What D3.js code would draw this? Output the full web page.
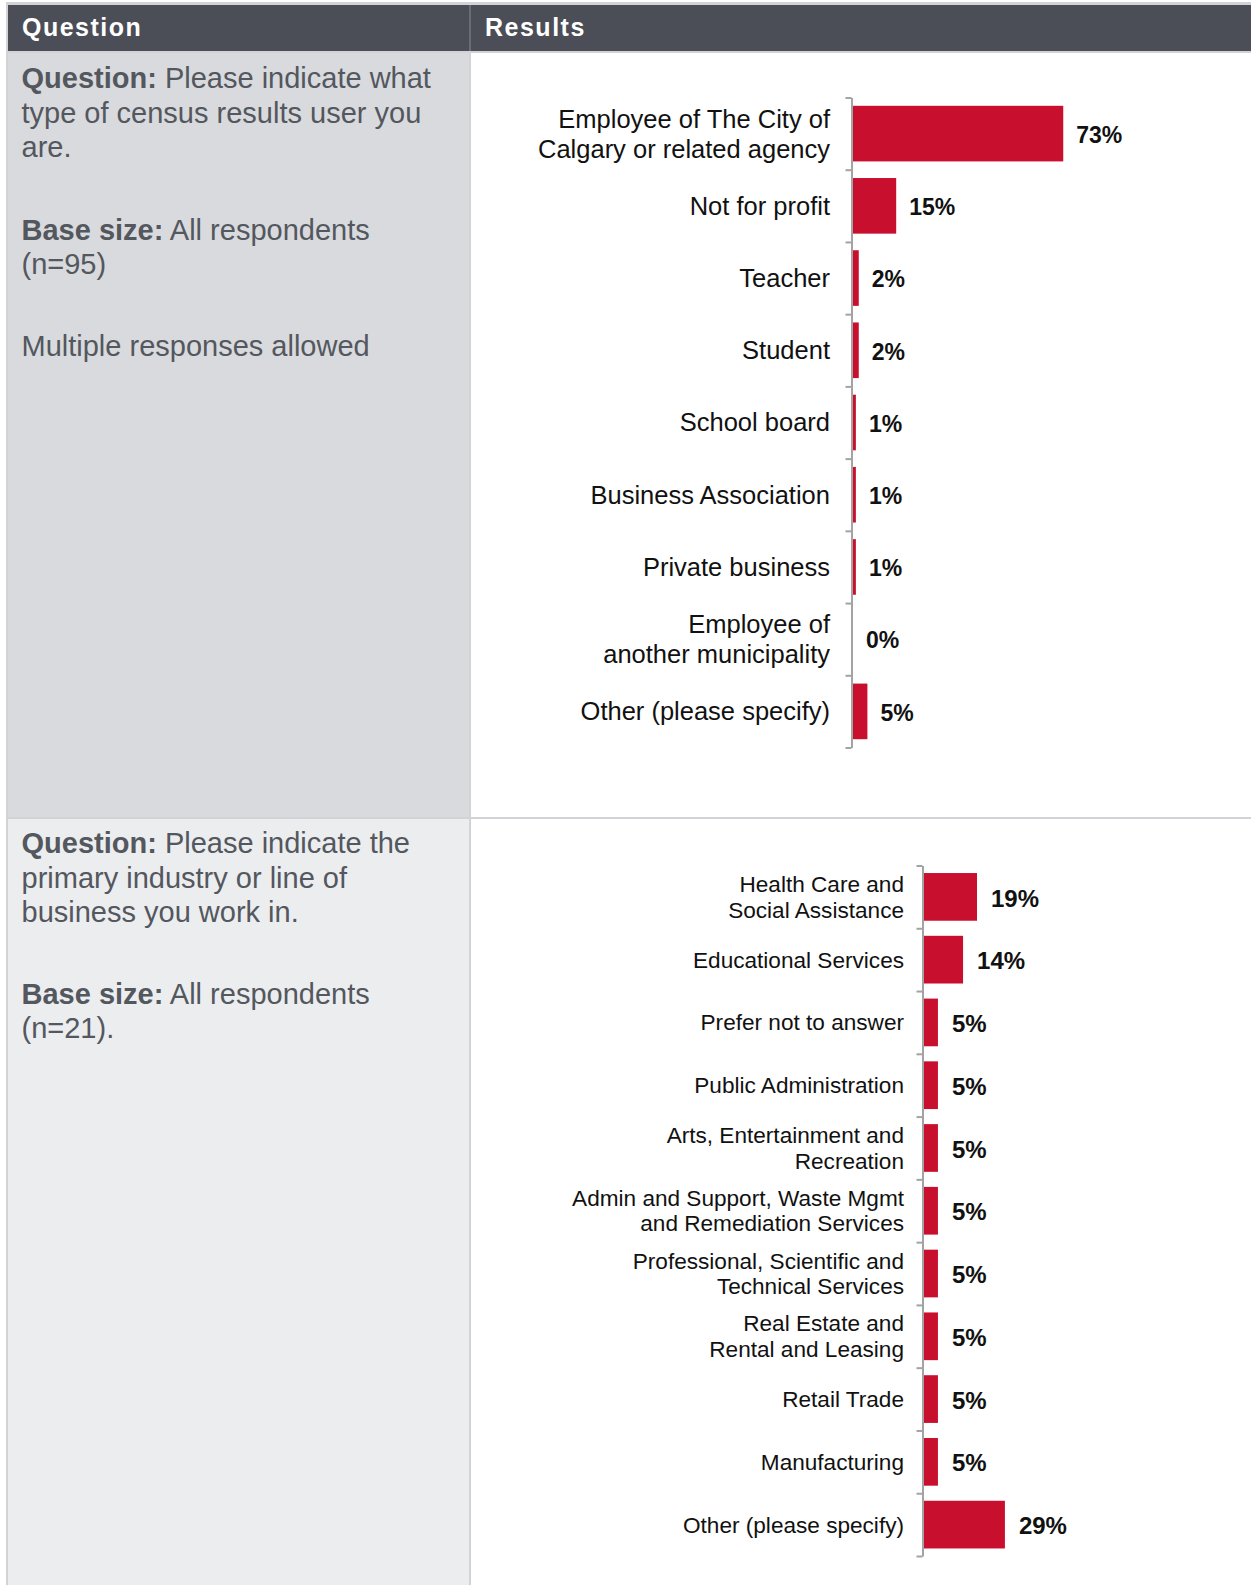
<!DOCTYPE html>
<meta charset="utf-8">
<style>
body { margin: 0; background: #fff; }
svg { display: block; font-family: "Liberation Sans", Arial, sans-serif; }
.hdr { fill: #fff; font-weight: bold; font-size: 25px; letter-spacing: 1.5px; }
.qtext { fill: #53575e; font-size: 29px; }
.qtext .b { font-weight: bold; }
.axis path, .axis line { stroke: #a3a3a3; stroke-width: 2px; }
.lbl { fill: #111; }
.val { fill: #111; font-weight: bold; }
</style>
<svg width="1251" height="1585"></svg>
<script src="https://cdn.jsdelivr.net/npm/d3@7"></script>
<script>

// chart 1: type of census results user
var userCats = [
  "Employee of The City of\nCalgary or related agency",
  "Not for profit",
  "Teacher",
  "Student",
  "School board",
  "Business Association",
  "Private business",
  "Employee of\nanother municipality",
  "Other (please specify)"
];
var userVals = [73, 15, 2, 2, 1, 1, 1, 0, 5];

// chart 2: primary industry
var industryCats = [
  "Health Care and\nSocial Assistance",
  "Educational Services",
  "Prefer not to answer",
  "Public Administration",
  "Arts, Entertainment and\nRecreation",
  "Admin and Support, Waste Mgmt\nand Remediation Services",
  "Professional, Scientific and\nTechnical Services",
  "Real Estate and\nRental and Leasing",
  "Retail Trade",
  "Manufacturing",
  "Other (please specify)"
];
var industryVals = [19, 14, 5, 5, 5, 5, 5, 5, 5, 5, 29];

var svg = d3.select("svg"),
    width = +svg.attr("width"),
    height = +svg.attr("height");

var lineCol = "#d2d3d7";

// table cells
svg.append("rect").attr("x", 6).attr("y", 2).attr("width", width - 6).attr("height", height - 2).attr("fill", lineCol);
svg.append("rect").attr("x", 8).attr("y", 5).attr("width", width - 8).attr("height", 46).attr("fill", "#4b4e56");
svg.append("rect").attr("x", 8).attr("y", 53).attr("width", 461).attr("height", 764).attr("fill", "#d9dadd");
svg.append("rect").attr("x", 8).attr("y", 819).attr("width", 461).attr("height", height - 819).attr("fill", "#ecedef");
svg.append("rect").attr("x", 471).attr("y", 53).attr("width", width - 471).attr("height", 764).attr("fill", "#fff");
svg.append("rect").attr("x", 471).attr("y", 819).attr("width", width - 471).attr("height", height - 819).attr("fill", "#fff");
svg.append("line").attr("x1", 470).attr("x2", 470).attr("y1", 5).attr("y2", 51).attr("stroke", "#6a6d74").attr("stroke-width", 2);

svg.append("text").attr("class", "hdr").attr("x", 22).attr("y", 36).text("Question");
svg.append("text").attr("class", "hdr").attr("x", 485).attr("y", 36).text("Results");

// question text, one entry per line: [bold part, normal part, baseline]
var q1Lines = [
  ["Question:", " Please indicate what", 88],
  ["", "type of census results user you", 122.5],
  ["", "are.", 157],
  ["Base size:", " All respondents", 240],
  ["", "(n=95)", 274],
  ["", "Multiple responses allowed", 356]
];
var q2Lines = [
  ["Question:", " Please indicate the", 853],
  ["", "primary industry or line of", 888],
  ["", "business you work in.", 921.5],
  ["Base size:", " All respondents", 1004],
  ["", "(n=21).", 1038]
];

function drawQuestion(lines) {
  lines.forEach(function(l) {
    var t = svg.append("text").attr("class", "qtext").attr("x", 21.5).attr("y", l[2]);
    if (l[0]) t.append("tspan").attr("class", "b").text(l[0]);
    t.append("tspan").text(l[1]);
  });
}
drawQuestion(q1Lines);
drawQuestion(q2Lines);

function barChart(cats, vals, o) {
  var n = cats.length;
  var y = d3.scaleBand().domain(cats).range([o.top, o.bottom])
      .paddingInner(o.pad).paddingOuter(o.pad / 2);
  var x = d3.scaleLinear().domain([0, 100]).range([o.axisX + 1.5, o.axisX + 1.5 + o.w]);
  var g = svg.append("g");

  g.selectAll("rect.bar")
    .data(cats)
    .enter().append("rect")
      .attr("class", "bar")
      .attr("x", x(0))
      .attr("y", function(d) { return y(d); })
      .attr("width", function(d, i) { return x(vals[i]) - x(0); })
      .attr("height", y.bandwidth())
      .attr("fill", "#c8102e");

  var tickScale = d3.scaleLinear().domain([0, n]).range([o.top, o.bottom]);
  g.append("g")
    .attr("class", "axis")
    .attr("transform", "translate(" + o.axisX + ",0)")
    .call(d3.axisLeft(tickScale).tickValues(d3.range(n + 1)).tickFormat("").tickSize(6).tickSizeOuter(0));

  g.selectAll("text.lbl")
    .data(cats)
    .enter().append("text")
      .attr("class", "lbl")
      .attr("text-anchor", "end")
      .style("font-size", o.fs + "px")
      .each(function(d) {
        var parts = d.split("\n");
        var cy = y(d) + y.bandwidth() / 2;
        var start = cy - (parts.length - 1) * o.lh / 2;
        var t = d3.select(this);
        parts.forEach(function(p, k) {
          t.append("tspan").attr("x", o.labelX).attr("y", start + k * o.lh).attr("dy", "0.35em").text(p);
        });
      });

  g.selectAll("text.val")
    .data(cats)
    .enter().append("text")
      .attr("class", "val")
      .style("font-size", o.vfs + "px")
      .attr("x", function(d, i) { return x(vals[i]) + o.gap; })
      .attr("y", function(d) { return y(d) + y.bandwidth() / 2 + 1; })
      .attr("dy", "0.36em")
      .text(function(d, i) { return vals[i] + "%"; });
}

barChart(userCats, userVals, {
  top: 97.5, bottom: 747.5, axisX: 851.5, w: 288, pad: 0.23,
  labelX: 830, fs: 25.5, lh: 30, vfs: 23, gap: 13
});

barChart(industryCats, industryVals, {
  top: 865.5, bottom: 1556, axisX: 922.5, w: 279, pad: 0.24,
  labelX: 904, fs: 22.6, lh: 25.5, vfs: 24, gap: 14
});

</script>
